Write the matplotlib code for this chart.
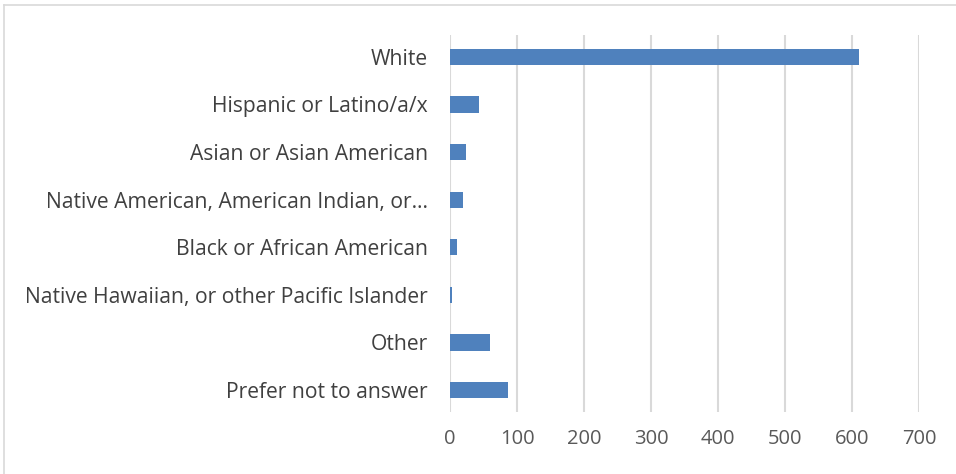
import matplotlib.pyplot as plt
from matplotlib.lines import Line2D

# Survey responses by race / ethnicity
categories = [
    "White",
    "Hispanic or Latino/a/x",
    "Asian or Asian American",
    "Native American, American Indian, or\u2026",
    "Black or African American",
    "Native Hawaiian, or other Pacific Islander",
    "Other",
    "Prefer not to answer",
]
counts = [610, 43, 24, 19, 10, 3, 60, 86]
xticks = [0, 100, 200, 300, 400, 500, 600, 700]

plt.rcParams['font.family'] = ['Open Sans', 'DejaVu Sans']

fig = plt.figure(figsize=(9.56, 4.74), dpi=100)
ax = fig.add_axes([0.4707, 0.1308, 0.4906, 0.7954])

ypos = list(range(len(categories)))
ax.barh(ypos, counts, height=0.34, color='#4f81bd', zorder=3)
ax.set_ylim(len(categories) - 0.54, -0.46)
ax.set_xlim(0, 700)

ax.set_yticks(ypos)
ax.set_yticklabels(categories, fontsize=15.2, color='#404040')
ax.set_xticks(xticks)
ax.set_xticklabels([str(t) for t in xticks], fontsize=14.5, color='#595959')
ax.tick_params(axis='y', length=0, pad=16)
ax.tick_params(axis='x', length=0, pad=12)

ax.grid(axis='x', color='#d9d9d9', linewidth=1.5, zorder=0)
for s in ax.spines.values():
    s.set_visible(False)

# light frame along the top and left edges
fig.add_artist(Line2D([4 / 956, 1.0], [1 - 5 / 474] * 2, color='#d9d9d9', linewidth=1.2))
fig.add_artist(Line2D([4 / 956] * 2, [0.0, 1 - 5 / 474], color='#d9d9d9', linewidth=1.2))

fig.savefig('out.png', dpi=100)
